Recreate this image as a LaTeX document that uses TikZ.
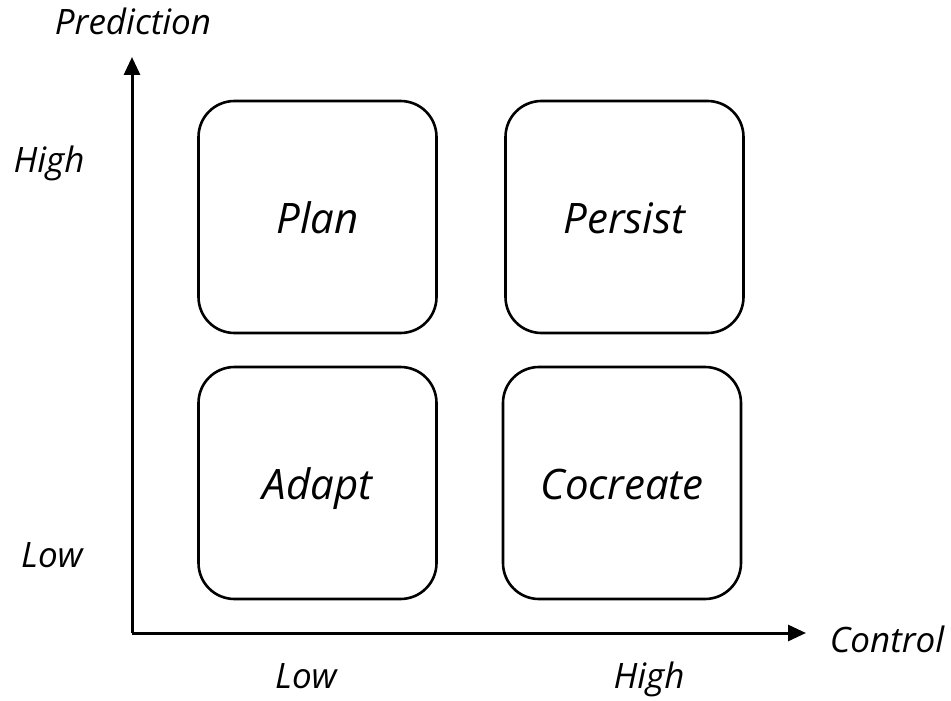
\documentclass[tikz,border=0pt]{standalone}
\usepackage{fontspec}
\setmainfont{Open Sans}
\usetikzlibrary{arrows.meta}
\begin{document}
\begin{tikzpicture}[x=1pt,y=-1pt,
  quadrant/.style={draw=black,line width=2.6pt,rounded corners=36pt,
    minimum width=238pt,minimum height=232pt,inner sep=0pt,
    text height=32pt,text depth=0pt,
    font=\itshape\fontsize{42}{50}\selectfont},
  axislabel/.style={font=\itshape\fontsize{35}{42}\selectfont,inner sep=0pt,anchor=base},
  axis/.style={line width=3pt,-{Triangle[length=18pt,width=16pt]}}]
\useasboundingbox (0,0) rectangle (951,701);
% quadrants
\node[quadrant] (plan) at (317.5,217) {Plan};
\node[quadrant] (persist) at (624.5,217) {Persist};
\node[quadrant] (adapt) at (317.5,483) {Adapt};
\node[quadrant] (cocreate) at (622,483) {Cocreate};
% axes
\coordinate (origin) at (132,633);
\coordinate (ytip) at (132,57);
\coordinate (xtip) at (806,633);
\draw[axis] (origin) -- (ytip);
\draw[axis] (origin) -- (xtip);
% axis labels
\node[axislabel] (ylab) at (133,35) {Prediction};
\node[axislabel] (xlab) at (887,652) {Control};
\node[axislabel] (yhigh) at (49,172) {High};
\node[axislabel] (ylow) at (52,567) {Low};
\node[axislabel] (xlow) at (306,688) {Low};
\node[axislabel] (xhigh) at (649,688) {High};
\end{tikzpicture}
\end{document}
